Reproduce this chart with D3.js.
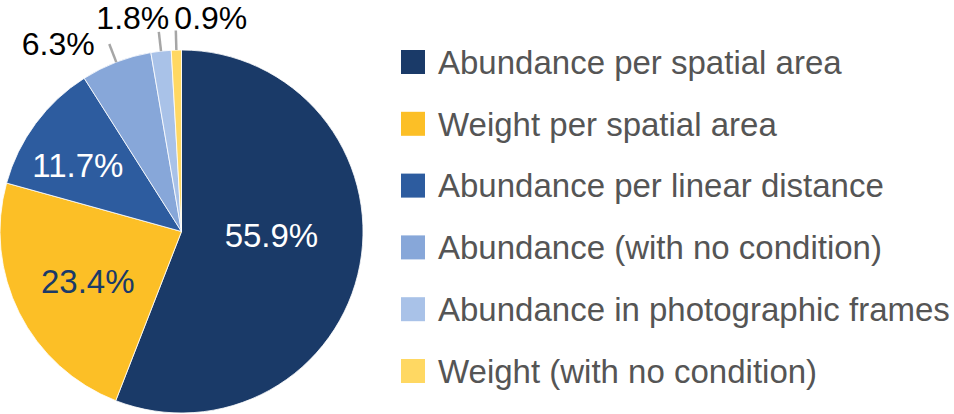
<!DOCTYPE html>
<html>
<head>
<meta charset="utf-8">
<script src="https://cdn.jsdelivr.net/npm/d3@7"></script>
<style>
  html, body { margin: 0; padding: 0; background: #ffffff; }
  svg { display: block; }
  text { font-family: "Liberation Sans", Arial, sans-serif; }
</style>
</head>
<body>
<svg id="chart" width="954" height="414"></svg>
<script>
// ---- data ----
const categories = [
  "Abundance per spatial area",
  "Weight per spatial area",
  "Abundance per linear distance",
  "Abundance (with no condition)",
  "Abundance in photographic frames",
  "Weight (with no condition)"
];
const values = [55.9, 23.4, 11.7, 6.3, 1.8, 0.9];
const labels = ["55.9%", "23.4%", "11.7%", "6.3%", "1.8%", "0.9%"];
const colors = ["#1a3a68", "#fcbf26", "#2d5c9f", "#87a7d9", "#a9c2e8", "#ffd862"];

// ---- layout ----
const cx = 181.5, cy = 231.5, R = 181.5;
const svg = d3.select("#chart");

const pie = d3.pie().sort(null).value(d => d)(values);
const arc = d3.arc().innerRadius(0).outerRadius(R);

const g = svg.append("g").attr("transform", `translate(${cx},${cy})`);

g.selectAll("path.slice")
  .data(pie)
  .join("path")
  .attr("class", "slice")
  .attr("d", arc)
  .attr("fill", (d, i) => colors[i])
  .attr("stroke", "#ffffff")
  .attr("stroke-width", 0.8);

// inside labels: index, radius, angle adjustment (rad), colour
const inside = [
  {i: 0, r: 90, da: -0.15, fill: "#ffffff"},
  {i: 1, r: 106, da: -0.02, fill: "#1a3a68"},
  {i: 2, r: 123, da: -0.07, fill: "#ffffff"}
];
inside.forEach(o => {
  const d = pie[o.i];
  const a = (d.startAngle + d.endAngle) / 2 + o.da;
  g.append("text")
    .attr("x", o.r * Math.sin(a))
    .attr("y", -o.r * Math.cos(a))
    .attr("dy", "0.36em")
    .attr("text-anchor", "middle")
    .attr("font-size", 33)
    .attr("fill", o.fill)
    .text(labels[o.i]);
});

// outside labels with leader lines
const outside = [
  {i: 3, dx: -51, dy: 0},
  {i: 4, dx: -26, dy: -14},
  {i: 5, dx: 35, dy: -13}
];
const r2 = 201;
outside.forEach(o => {
  const d = pie[o.i];
  const a = (d.startAngle + d.endAngle) / 2;
  const x1 = R * Math.sin(a), y1 = -R * Math.cos(a);
  const x2 = r2 * Math.sin(a), y2 = -r2 * Math.cos(a);
  g.append("line")
    .attr("x1", x1).attr("y1", y1)
    .attr("x2", x2).attr("y2", y2)
    .attr("stroke", "#a6a6a6")
    .attr("stroke-width", 2.5);
  g.append("text")
    .attr("x", x2 + o.dx)
    .attr("y", y2 + o.dy)
    .attr("dy", "0.36em")
    .attr("text-anchor", "middle")
    .attr("font-size", 32)
    .attr("fill", "#000000")
    .text(labels[o.i]);
});

// legend
const legY = d3.scalePoint().domain(categories).range([62, 371]);
const leg = svg.append("g");
const items = leg.selectAll("g.item")
  .data(categories)
  .join("g")
  .attr("class", "item")
  .attr("transform", d => `translate(401,${legY(d)})`);
items.append("rect")
  .attr("x", 0).attr("y", -12)
  .attr("width", 24).attr("height", 24)
  .attr("fill", (d, i) => colors[i]);
items.append("text")
  .attr("x", 37)
  .attr("y", 0)
  .attr("dy", "0.36em")
  .attr("font-size", 33)
  .attr("fill", "#555555")
  .text(d => d);
</script>
</body>
</html>
